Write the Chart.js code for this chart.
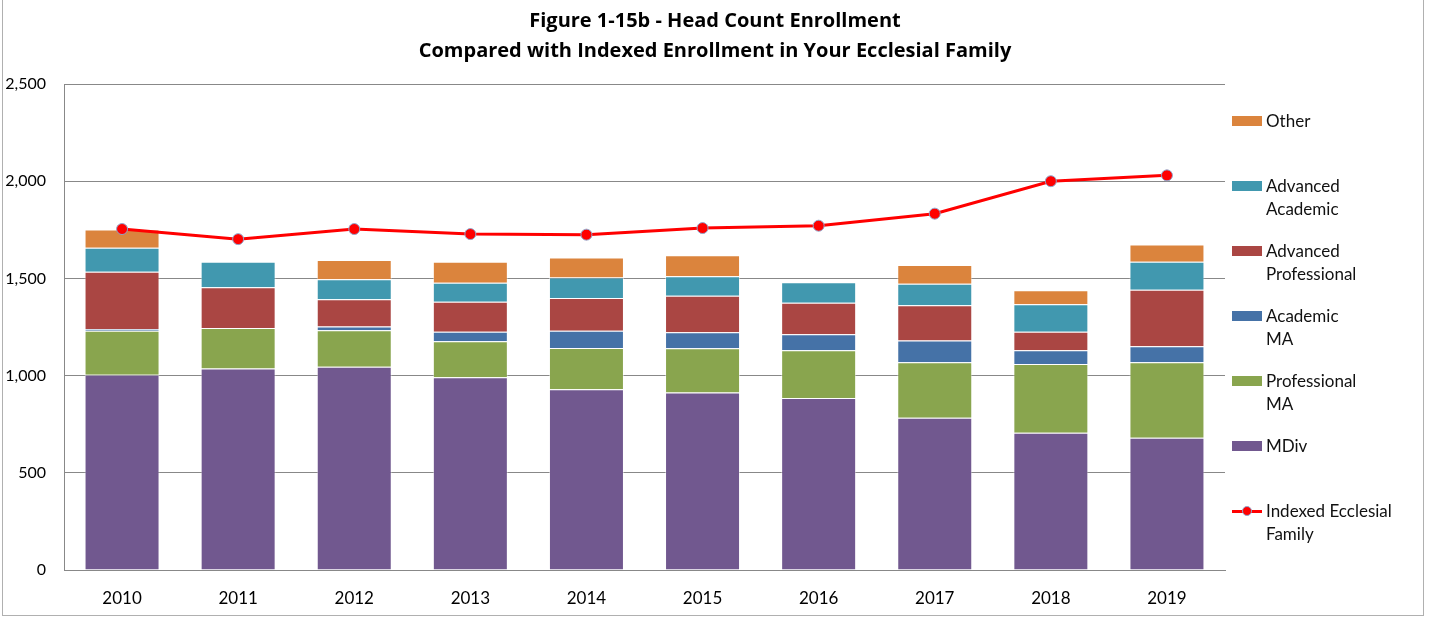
<!DOCTYPE html>
<html>
<head>
<meta charset="utf-8">
<script src="https://cdn.jsdelivr.net/npm/chart.js@4.4.1/dist/chart.umd.min.js"></script>
<style>
  html, body { margin:0; padding:0; background:#fff; }
  #wrap { position:relative; width:1430px; height:619px; overflow:hidden; font-family:Lato, sans-serif; }
  #frame { position:absolute; left:2px; top:-2px; width:1422px; height:618px; border:1px solid #b0b0b0; box-sizing:border-box; pointer-events:none; }
  #title { position:absolute; left:0; width:1430px; top:5px; text-align:center; font-family:"Open Sans", sans-serif; font-weight:bold; font-size:20px; line-height:30px; color:#000; }
  #legend { position:absolute; left:1232px; top:0; }
  .item { position:absolute; left:0; width:195px; font-size:17px; line-height:23px; color:#111; }
  .sw { position:absolute; left:0; top:7px; width:30px; height:10px; }
  .txt { position:absolute; left:34px; top:0; white-space:nowrap; }
  .ln { position:absolute; left:0; top:11px; width:30px; height:3px; background:#ff0000; }
  .dot { position:absolute; left:10px; top:7px; width:10px; height:10px; border-radius:50%; background:#ff0000; border:1px solid #8fa6cc; box-sizing:border-box; }
</style>
</head>
<body>
<div id="wrap">
  <canvas id="chart"></canvas>
  <div id="title">Figure 1-15b - Head Count Enrollment<br>Compared with Indexed Enrollment in Your Ecclesial Family</div>
  <div id="legend"></div>
  <div id="frame"></div>
</div>
<script>
const years = ['2010','2011','2012','2013','2014','2015','2016','2017','2018','2019'];
const mdiv        = [1004, 1036, 1046, 992, 930, 913, 885, 783, 706, 680];
const profMA      = [227, 209, 187, 185, 212, 228, 246, 286, 354, 389];
const acadMA      = [9, 0, 19, 49, 89, 82, 82, 111, 71, 82];
const advProf     = [294, 209, 141, 154, 168, 188, 162, 182, 95, 291];
const advAcad     = [124, 132, 102, 98, 105, 100, 105, 111, 141, 144];
const other       = [94, 0, 100, 108, 104, 108, 0, 96, 72, 89];
const indexedFam  = [1754, 1702, 1754, 1728, 1725, 1759, 1771, 1833, 2000, 2030];
const yTicks      = [0, 500, 1000, 1500, 2000, 2500];

const C = {
  mdiv: '#71588f', profMA: '#89a54e', acadMA: '#4572a7',
  advProf: '#aa4643', advAcad: '#4198af', other: '#db843d', line: '#ff0000'
};

// legend entries, top to bottom as in the figure
const legendItems = [
  { lines: ['Other'], color: C.other },
  { lines: ['Advanced', 'Academic'], color: C.advAcad },
  { lines: ['Advanced', 'Professional'], color: C.advProf },
  { lines: ['Academic', 'MA'], color: C.acadMA },
  { lines: ['Professional', 'MA'], color: C.profMA },
  { lines: ['MDiv'], color: C.mdiv },
  { lines: ['Indexed Ecclesial', 'Family'], color: C.line, isLine: true }
];

function bar(label, data, color){
  return { type:'bar', label, data, backgroundColor: color, borderColor:'rgba(255,255,255,0.45)',
           borderWidth:1, stack:'enroll', order:1, categoryPercentage:1, barPercentage:0.646 };
}

function buildLegend(){
  const box = document.getElementById('legend');
  legendItems.forEach((it, i) => {
    const d = document.createElement('div');
    d.className = 'item';
    d.style.top = (109 + i * 65) + 'px';
    const mark = it.isLine
      ? '<div class="ln"></div><div class="dot"></div>'
      : `<div class="sw" style="background:${it.color}"></div>`;
    d.innerHTML = mark + `<div class="txt">${it.lines.join('<br>')}</div>`;
    box.appendChild(d);
  });
}

(function init(){
  Chart.defaults.font.family = 'Lato, sans-serif';
  Chart.defaults.color = '#000';
  buildLegend();
  const ctx = document.getElementById('chart').getContext('2d');
  new Chart(ctx, {
    data: {
      labels: years,
      datasets: [
        { type:'line', label:'Indexed Ecclesial Family', data: indexedFam, stack:'line', order:0,
          borderColor: C.line, borderWidth:3, pointRadius:5.5, pointBackgroundColor: C.line,
          pointBorderColor:'#8fa6cc', pointBorderWidth:1, tension:0, fill:false },
        bar('MDiv', mdiv, C.mdiv),
        bar('Professional MA', profMA, C.profMA),
        bar('Academic MA', acadMA, C.acadMA),
        bar('Advanced Professional', advProf, C.advProf),
        bar('Advanced Academic', advAcad, C.advAcad),
        bar('Other', other, C.other)
      ]
    },
    options: {
      responsive: true,
      maintainAspectRatio: false,
      animation: false,
      layout: { padding: { left:0, top:84, right:205, bottom:0 } },
      plugins: { legend: { display:false }, title: { display:false }, tooltip: { enabled:false } },
      scales: {
        x: {
          stacked: true,
          grid: { display:false, drawTicks:false },
          border: { color:'#888', width:1 },
          ticks: { font:{ size:17 }, padding:18, color:'#000' },
          afterFit: s => { s.height = 49; }
        },
        y: {
          stacked: true,
          min: 0, max: 2500,
          afterBuildTicks: s => { s.ticks = yTicks.map(v => ({ value: v })); },
          grid: { color:'#888', lineWidth:1, drawTicks:false },
          border: { color:'#888', width:1 },
          ticks: { font:{ size:16 }, padding:18, color:'#000',
                   callback: v => Number(v).toLocaleString('en-US') },
          afterFit: s => { s.width = 64; }
        }
      }
    }
  });
})();
</script>
</body>
</html>
